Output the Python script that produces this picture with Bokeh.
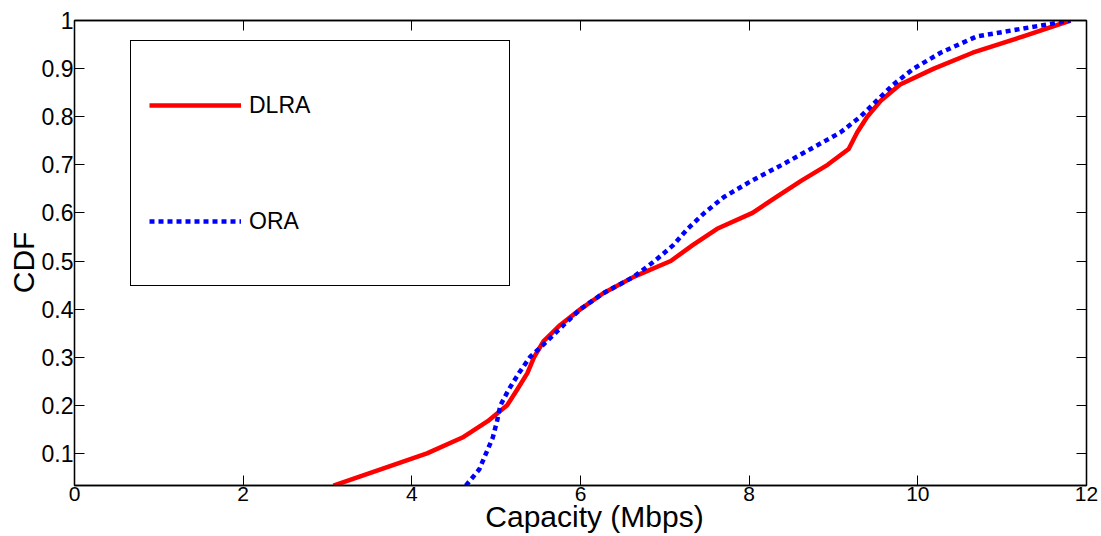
from bokeh.plotting import figure
from bokeh.models import (Range1d, FixedTicker, LinearAxis, Legend, LegendItem, Label)
from bokeh.embed import file_html
from bokeh.resources import INLINE
import math

# ---- data ----
dlra_capacity = [3.07, 3.63, 4.18, 4.60, 4.90, 5.13, 5.25, 5.37, 5.45, 5.56,
                 5.76, 6.00, 6.27, 6.63, 7.07, 7.33, 7.62, 8.04, 8.32, 8.62,
                 8.93, 9.18, 9.28, 9.40, 9.56, 9.79, 10.19, 10.65, 11.25, 11.81]
dlra_cdf = [0.033, 0.067, 0.100, 0.133, 0.167, 0.200, 0.233, 0.267, 0.300, 0.333,
            0.367, 0.400, 0.433, 0.467, 0.500, 0.533, 0.567, 0.600, 0.633, 0.667,
            0.700, 0.733, 0.767, 0.800, 0.833, 0.867, 0.900, 0.933, 0.967, 1.000]

ora_capacity = [4.64, 4.80, 4.88, 4.96, 5.01, 5.05, 5.15, 5.27, 5.40, 5.60,
                5.80, 6.00, 6.27, 6.63, 6.88, 7.10, 7.27, 7.47, 7.70, 8.03,
                8.39, 8.73, 9.08, 9.32, 9.51, 9.71, 9.95, 10.27, 10.70, 11.81]
ora_cdf = [0.033, 0.067, 0.100, 0.133, 0.167, 0.200, 0.233, 0.267, 0.300, 0.333,
           0.367, 0.400, 0.433, 0.467, 0.500, 0.533, 0.567, 0.600, 0.633, 0.667,
           0.700, 0.733, 0.767, 0.800, 0.833, 0.867, 0.900, 0.933, 0.967, 1.000]

x_ticks = [0, 2, 4, 6, 8, 10, 12]
y_ticks = [0.1, 0.2, 0.3, 0.4, 0.5, 0.6, 0.7, 0.8, 0.9, 1.0]
series_names = ["DLRA", "ORA"]
x_title = "Capacity (Mbps)"
y_title = "CDF"

FONT = "Liberation Sans"

p = figure(width=1101, height=536, output_backend="svg", toolbar_location=None,
           x_range=Range1d(0, 12), y_range=Range1d(0.0333, 1.0),
           x_axis_type=None, y_axis_type=None,
           min_border_left=74, min_border_right=15, min_border_top=20,
           min_border_bottom=50)
p.background_fill_color = "white"
p.border_fill_color = "white"
p.outline_line_color = "black"
p.outline_line_width = 1.3

def make_axis(ticks, show_labels, size="22px"):
    ax = LinearAxis(ticker=FixedTicker(ticks=ticks))
    ax.axis_line_color = "black"
    ax.axis_line_width = 1.3
    ax.major_tick_in = 10
    ax.major_tick_out = 0
    ax.major_tick_line_color = "black"
    ax.major_tick_line_width = 1
    ax.minor_tick_line_color = None
    ax.major_label_text_font = FONT
    ax.major_label_text_color = "black"
    if show_labels:
        ax.major_label_text_font_size = size
    else:
        ax.major_label_overrides = {t: "" for t in ticks}
        ax.major_label_text_font_size = "1px"
        ax.major_label_standoff = 0
    return ax

xb = make_axis(x_ticks, True, "21px")
xb.major_label_standoff = 1
yl = make_axis(y_ticks, True, "23px")
yl.major_label_standoff = 1
yl.major_label_overrides = {1.0: "1"}
xt = make_axis(x_ticks, False)
yr = make_axis(y_ticks, False)
p.add_layout(xb, "below")
p.add_layout(yl, "left")
p.add_layout(xt, "above")
p.add_layout(yr, "right")

p.xgrid.ticker = FixedTicker(ticks=x_ticks)
p.ygrid.ticker = FixedTicker(ticks=y_ticks)
for g in (p.xgrid, p.ygrid):
    g.grid_line_color = "#a8a8a8"
    g.grid_line_dash = "1 3"
    g.grid_line_width = 1

r1 = p.line(dlra_capacity, dlra_cdf, line_color="#ff0000", line_width=4.5,
            line_join="round")
r2 = p.line(ora_capacity, ora_cdf, line_color="#0000ff", line_width=4.5,
            line_dash="5 4")

legend = Legend(items=[LegendItem(label=series_names[0], renderers=[r1]),
                       LegendItem(label=series_names[1], renderers=[r2])],
                location=(56, 199), orientation="vertical",
                padding=18, spacing=24, glyph_width=92, glyph_height=92,
                label_height=92, label_width=242, label_standoff=8,
                label_text_font=FONT, label_text_font_size="23px",
                label_text_color="black",
                border_line_color="black", border_line_width=1.4,
                border_line_alpha=1.0,
                background_fill_color="white", background_fill_alpha=1.0,
                margin=0)
p.add_layout(legend)

p.add_layout(Label(x=6.166, y=-0.0304, text=x_title, text_align="center",
                   text_baseline="alphabetic", text_font=FONT,
                   text_font_size="30px", text_color="black",
                   text_line_height=0.3), "below")
p.add_layout(Label(x=-0.605, y=0.497, text=y_title, angle=math.pi / 2,
                   text_align="center", text_baseline="middle", text_font=FONT,
                   text_font_size="30px", text_color="black"), "left")

open("out.html", "w").write(file_html(p, INLINE))
